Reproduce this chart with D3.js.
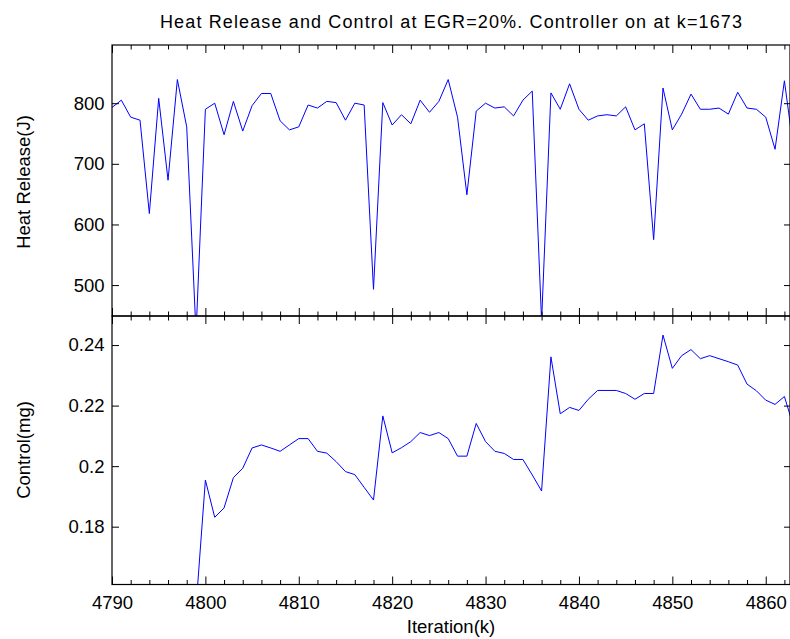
<!DOCTYPE html>
<html>
<head>
<meta charset="utf-8">
<script src="https://cdn.jsdelivr.net/npm/d3@7"></script>
<style>
  body { margin: 0; background: #fff; }
  svg { display: block; font-family: "Liberation Sans", Arial, sans-serif; }
</style>
</head>
<body>
<div id="chart"></div>
<script>
const iterations = d3.range(4790, 4864);
const heatRelease = [
  793, 805, 777, 772, 618, 808, 673, 839, 761, 420,
  790, 800, 748, 803, 754, 796, 816, 816, 771, 756,
  761, 797, 792, 803, 801, 772, 800, 797, 493, 801,
  764, 781, 766, 805, 785, 803, 839, 777, 649, 787,
  800, 792, 794, 779, 805, 820, 440, 817, 790, 832,
  790, 772, 779, 781, 779, 794, 756, 766, 575, 825,
  756, 782, 815, 790, 790, 792, 782, 818, 792, 790,
  777, 724, 837, 722
];
const control = [
  0.1535, 0.1535, 0.1535, 0.1535, 0.1535, 0.1535, 0.1535, 0.1535, 0.1535, 0.1535,
  0.1954, 0.1831, 0.1862, 0.1962, 0.1993, 0.2060, 0.2070, 0.2060, 0.2049, 0.2070,
  0.2091, 0.2091, 0.2049, 0.2043, 0.2015, 0.1982, 0.1972, 0.1930, 0.1888, 0.2166,
  0.2044, 0.2061, 0.2081, 0.2111, 0.2101, 0.2111, 0.2091, 0.2033, 0.2033, 0.2141,
  0.2081, 0.2049, 0.2042, 0.2022, 0.2022, 0.1971, 0.1918, 0.2361, 0.2173, 0.2194,
  0.2184, 0.2221, 0.2250, 0.2250, 0.2250, 0.2240, 0.2221, 0.2240, 0.2240, 0.2433,
  0.2323, 0.2365, 0.2385, 0.2355, 0.2365, 0.2355, 0.2345, 0.2334, 0.2271, 0.2249,
  0.2218, 0.2204, 0.2230, 0.2129
];
const xMajorTicks = [4790, 4800, 4810, 4820, 4830, 4840, 4850, 4860];
const xMinorTicks = d3.range(4790, 4863, 2).filter(d => d % 10 !== 0);
const heatTicks = [500, 600, 700, 800];
const controlTicks = [0.18, 0.2, 0.22, 0.24];
const controlTickLabels = ["0.18", "0.2", "0.22", "0.24"];

const width = 790, height = 639;
const left = 112, right = 790;
const topPanel = { y0: 45, y1: 316 };
const botPanel = { y0: 316, y1: 584.5 };

const svg = d3.select("#chart")
    .append("svg")
    .attr("width", width)
    .attr("height", height);

const xScale = d3.scaleLinear()
    .domain([4790, 4862.6])
    .range([left, right]);

const yHeat = d3.scaleLinear()
    .domain([449, 896])
    .range([topPanel.y1, topPanel.y0]);

const yControl = d3.scaleLinear()
    .domain([0.1609, 0.2496])
    .range([botPanel.y1, botPanel.y0]);

function drawPanel(p, yScale, yTicks, yLabels, values, showX, id) {
    svg.append("clipPath").attr("id", id)
        .append("rect")
        .attr("x", left).attr("y", p.y0)
        .attr("width", right - left).attr("height", p.y1 - p.y0);

    // 数据线
    const line = d3.line()
        .x((d, i) => xScale(iterations[i]))
        .y(d => yScale(d));
    svg.append("path")
        .datum(values)
        .attr("clip-path", `url(#${id})`)
        .attr("fill", "none")
        .attr("stroke", "#0000ff")
        .attr("stroke-width", 1)
        .attr("d", line);

    // x 刻度 (上下)
    const axes = [
        [d3.axisBottom(xScale).tickValues(xMinorTicks).tickSize(-4.5).tickFormat(""), p.y1],
        [d3.axisBottom(xScale).tickValues(xMajorTicks).tickSize(-8).tickPadding(11)
            .tickFormat(showX ? d3.format("d") : ""), p.y1],
        [d3.axisTop(xScale).tickValues(xMinorTicks).tickSize(-4.5).tickFormat(""), p.y0],
        [d3.axisTop(xScale).tickValues(xMajorTicks).tickSize(-8).tickFormat(""), p.y0]
    ];
    axes.forEach(([ax, y]) => {
        const g = svg.append("g")
            .attr("transform", `translate(0,${y})`)
            .call(ax);
        g.select(".domain").remove();
        g.selectAll("line").attr("stroke", "#000");
        g.selectAll("text").style("font-size", "18.5px").attr("fill", "#000");
    });

    // y 刻度 (左右)
    const gl = svg.append("g")
        .attr("transform", `translate(${left},0)`)
        .call(d3.axisLeft(yScale).tickValues(yTicks).tickSize(-7).tickPadding(7.5)
            .tickFormat((d, i) => yLabels[i]));
    gl.select(".domain").remove();
    gl.selectAll("line").attr("stroke", "#000");
    gl.selectAll("text").style("font-size", "18.5px").attr("fill", "#000");

    const gr = svg.append("g")
        .attr("transform", `translate(${right},0)`)
        .call(d3.axisRight(yScale).tickValues(yTicks).tickSize(-6).tickFormat(""));
    gr.select(".domain").remove();
    gr.selectAll("line").attr("stroke", "#000");

    svg.append("rect")
        .attr("x", left).attr("y", p.y0)
        .attr("width", right - left).attr("height", p.y1 - p.y0)
        .attr("fill", "none")
        .attr("stroke", "#000")
        .attr("stroke-width", 1.2);
}

drawPanel(topPanel, yHeat, heatTicks, heatTicks.map(String), heatRelease, false, "clipTop");
drawPanel(botPanel, yControl, controlTicks, controlTickLabels, control, true, "clipBot");

// 标题
svg.append("text")
    .attr("x", 451)
    .attr("y", 28)
    .attr("text-anchor", "middle")
    .attr("textLength", 582)
    .attr("lengthAdjust", "spacing")
    .style("font-size", "18px")
    .text("Heat Release and Control at EGR=20%. Controller on at k=1673");

// y 轴标签
svg.append("text")
    .attr("transform", "rotate(-90)")
    .attr("x", -182)
    .attr("y", 30)
    .attr("text-anchor", "middle")
    .style("font-size", "18.5px")
    .text("Heat Release(J)");

svg.append("text")
    .attr("transform", "rotate(-90)")
    .attr("x", -450)
    .attr("y", 30)
    .attr("text-anchor", "middle")
    .style("font-size", "18.5px")
    .text("Control(mg)");

// x 轴标签
svg.append("text")
    .attr("x", 451)
    .attr("y", 633)
    .attr("text-anchor", "middle")
    .style("font-size", "18.5px")
    .text("Iteration(k)");
</script>
</body>
</html>
